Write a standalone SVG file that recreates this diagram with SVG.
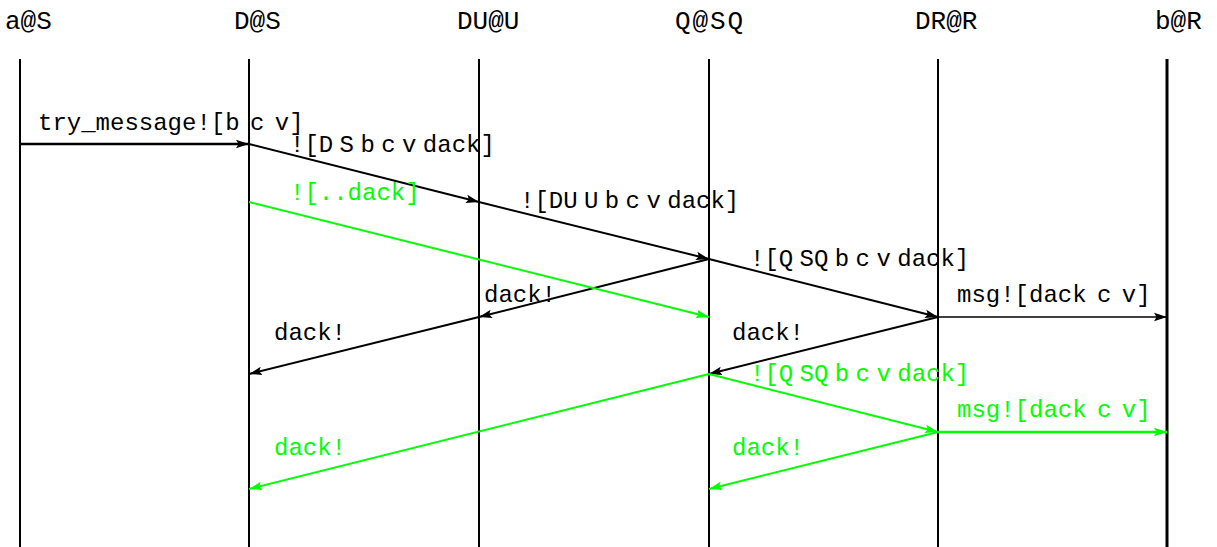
<svg xmlns="http://www.w3.org/2000/svg" width="1217" height="547" viewBox="0 0 1217 547">
<style>
text{font-family:"Liberation Mono","DejaVu Sans Mono",monospace;}
.hd{font-size:26px;fill:#000}
.lb{font-size:24px;fill:#000;word-spacing:-8px}
.ws{word-spacing:-4px}
.g{fill:#00ff00}
.life{stroke:#000;stroke-width:2;fill:none}
.a{stroke:#000;stroke-width:2;fill:none;marker-end:url(#ab)}
.ag{stroke:#00ff00;stroke-width:2;fill:none;marker-end:url(#ag)}
</style>
<defs>
<marker id="ab" markerUnits="userSpaceOnUse" markerWidth="14" markerHeight="10" refX="13" refY="5" orient="auto"><path d="M0,0.8 L13,5 L0,9.2 L2.5,5 z" fill="#000"/></marker>
<marker id="ag" markerUnits="userSpaceOnUse" markerWidth="14" markerHeight="10" refX="13" refY="5" orient="auto"><path d="M0,0.8 L13,5 L0,9.2 L2.5,5 z" fill="#00ff00"/></marker>
</defs>
<g id="n-aS"><text class="hd" x="5" y="29">a@S</text><line class="life" x1="20" y1="59" x2="20" y2="547"/></g>
<g id="n-DS"><text class="hd" x="234" y="29">D@S</text><line class="life" x1="249" y1="59" x2="249" y2="547"/></g>
<g id="n-DUU"><text class="hd" x="457" y="29">DU@U</text><line class="life" x1="479" y1="59" x2="479" y2="547"/></g>
<g id="n-QSQ"><text class="hd" x="675" y="29" textLength="68">Q@SQ</text><line class="life" x1="709" y1="59" x2="709" y2="547"/></g>
<g id="n-DRR"><text class="hd" x="915" y="29">DR@R</text><line class="life" x1="938" y1="59" x2="938" y2="547"/></g>
<g id="n-bR"><text class="hd" x="1155" y="29">b@R</text><line class="life" x1="1167" y1="59" x2="1167" y2="547" style="stroke-width:3"/></g>
<g id="connectors">
<line class="a" x1="20" y1="144" x2="249" y2="144" style="stroke-width:2.5"/>
<line class="a" x1="249" y1="144" x2="479" y2="202"/>
<line class="a" x1="479" y1="202" x2="709" y2="259"/>
<line class="a" x1="709" y1="259" x2="938" y2="317"/>
<line class="a" x1="938" y1="317" x2="1167" y2="317" style="stroke-width:1.5"/>
<line class="a" x1="938" y1="317" x2="709" y2="374"/>
<line class="a" x1="709" y1="259" x2="479" y2="317"/>
<line class="a" x1="479" y1="317" x2="249" y2="374"/>
<line class="ag" x1="249" y1="202" x2="709" y2="317"/>
<line class="ag" x1="709" y1="374" x2="938" y2="432"/>
<line class="ag" x1="938" y1="432" x2="1167" y2="432" style="stroke-width:2.5"/>
<line class="ag" x1="709" y1="374" x2="249" y2="489"/>
<line class="ag" x1="938" y1="432" x2="709" y2="489"/>
</g>
<g id="labels">
<text class="lb ws" x="38" y="130">try_message![b c v]</text>
<text class="lb" x="290" y="152">![D S b c v dack]</text>
<text class="lb" x="520" y="208">![DU U b c v dack]</text>
<text class="lb" x="750" y="266">![Q SQ b c v dack]</text>
<text class="lb ws" x="957" y="302">msg![dack c v]</text>
<text class="lb" x="484" y="302">dack!</text>
<text class="lb" x="732" y="340">dack!</text>
<text class="lb" x="274" y="340">dack!</text>
<text class="lb g" x="290" y="200">![..dack]</text>
<text class="lb g" x="750" y="381">![Q SQ b c v dack]</text>
<text class="lb g ws" x="957" y="417">msg![dack c v]</text>
<text class="lb g" x="274" y="455">dack!</text>
<text class="lb g" x="732" y="455">dack!</text>
</g>
</svg>
